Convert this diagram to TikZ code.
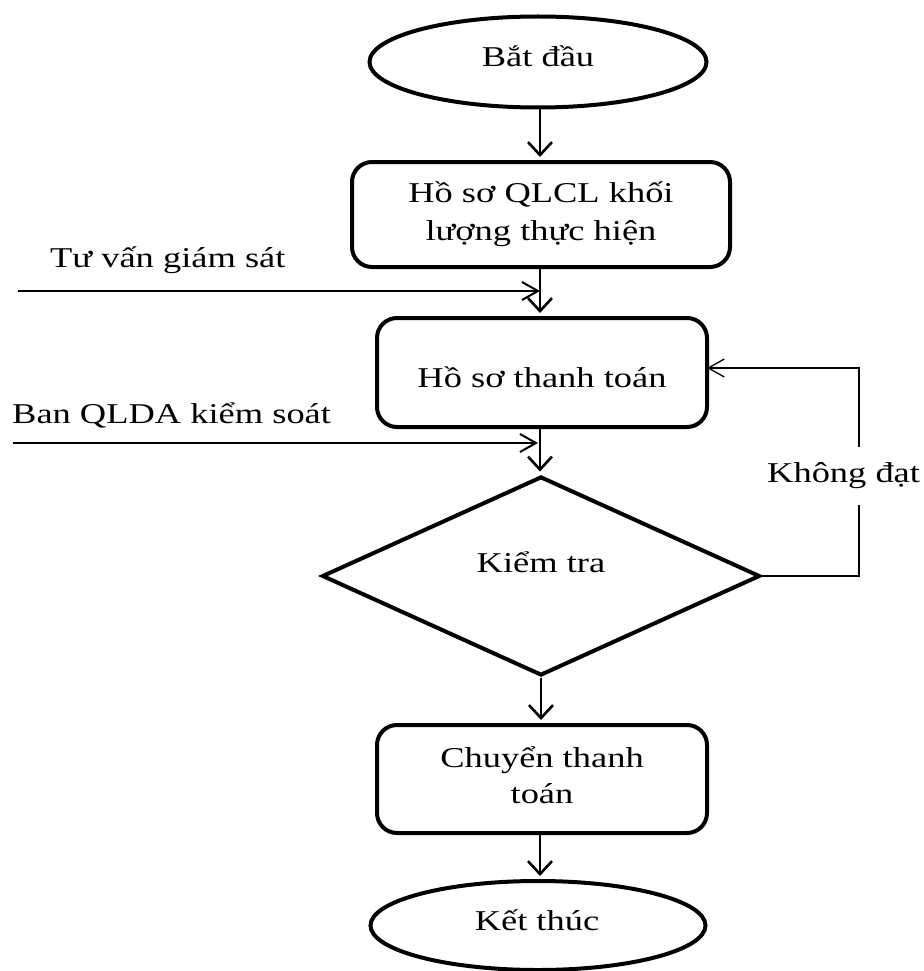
\documentclass[tikz,border=0pt]{standalone}
\usepackage{fontspec}
\setmainfont{Liberation Serif}[FakeStretch=1.27]
\usetikzlibrary{shapes.geometric,arrows.meta}
\begin{document}
\begin{tikzpicture}[x=1pt,y=-1pt,
  shapeline/.style={draw=black,line width=4pt,inner sep=0pt,minimum size=0pt},
  terminal/.style={shapeline,ellipse},
  procbox/.style={shapeline,rectangle,rounded corners=20pt},
  decision/.style={shapeline,diamond},
  lbl/.style={font=\fontsize{28.7}{37}\selectfont,inner sep=0pt,anchor=base},
  flow/.style={line width=2.6pt,-{Straight Barb[length=13pt,width=24pt]},shorten >=3pt},
  feed/.style={line width=2pt,-{Straight Barb[length=16pt,width=18pt]}},
  back/.style={line width=1.3pt},
  backtip/.style={back,-{Straight Barb[length=16pt,width=18pt]}}
]
\path[use as bounding box] (0,0) rectangle (923,971);

% shapes of the flow
\node[terminal,minimum width=337pt,minimum height=91pt] (start) at (538,62) {};
\node[procbox,minimum width=378pt,minimum height=105pt] (b1) at (541,214.5) {};
\node[procbox,minimum width=330pt,minimum height=109pt] (b2) at (542,372.5) {};
\node[decision,minimum width=438pt,minimum height=199pt] (chk) at (541,576) {};
\node[procbox,minimum width=330pt,minimum height=108pt] (b3) at (542,779) {};
\node[terminal,minimum width=335pt,minimum height=89pt] (stop) at (538,925.5) {};

% texts of the shapes
\node[lbl] (t-start) at (538,67) {Bắt đầu};
\node[lbl] (t-b1a) at (541,202) {Hồ sơ QLCL khối};
\node[lbl] (t-b1b) at (541,240) {lượng thực hiện};
\node[lbl] (t-b2) at (542,387) {Hồ sơ thanh toán};
\node[lbl] (t-chk) at (541,572) {Kiểm tra};
\node[lbl] (t-b3a) at (542,767) {Chuyển thanh};
\node[lbl] (t-b3b) at (542,803) {toán};
\node[lbl] (t-stop) at (537,930) {Kết thúc};

% side inputs
\node[lbl,anchor=base west] (t-tv) at (50,267) {Tư vấn giám sát};
\node[lbl,anchor=base west] (t-ban) at (12,423) {Ban QLDA kiểm soát};
\node[lbl,anchor=base west] (t-kd) at (767,482) {Không đạt};

% main flow
\draw[flow] (start.south -| 540,0) -- (540,0 |- b1.north);
\draw[flow] (b1.south -| 540,0) -- (540,0 |- b2.north);
\draw[flow] (b2.south -| 540,0) -- (540,0 |- chk.north);
\draw[flow] (chk.south) -- (chk.south |- b3.north);
\draw[flow] (b3.south -| 540,0) -- (540,0 |- stop.north);

% inputs entering the flow
\coordinate (tv-in) at (18,291);
\coordinate (tv-join) at (540,291);
\draw[feed] (tv-in) -- (tv-join);
\coordinate (ban-in) at (13,443);
\coordinate (ban-join) at (538,443);
\draw[feed] (ban-in) -- (ban-join);

% loop back when the check fails
\coordinate (fb-low) at (859,576);
\coordinate (fb-gap-low) at (859,505);
\coordinate (fb-gap-high) at (859,447);
\coordinate (fb-high) at (859,368);
\coordinate (fb-end) at (707,368);
\draw[back] (chk.east) -- (fb-low) -- (fb-gap-low);
\draw[backtip] (fb-gap-high) -- (fb-high) -- (fb-end);
\end{tikzpicture}
\end{document}
